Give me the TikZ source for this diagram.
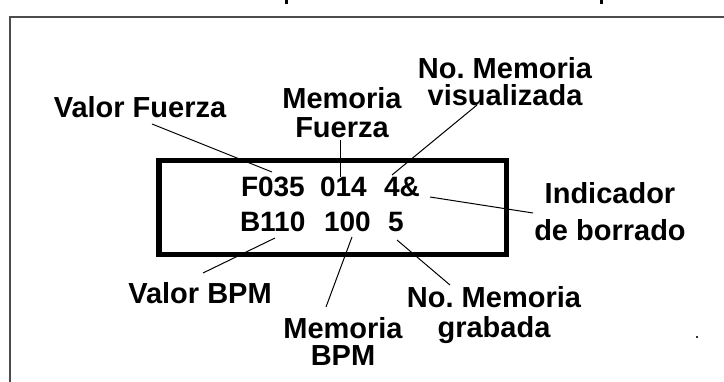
\documentclass[tikz,border=0pt]{standalone}
\usepackage{fontspec}
\setmainfont{Liberation Sans}
\frenchspacing
\begin{document}
\begin{tikzpicture}[x=1pt,y=-1pt,
  lbl/.style={inner sep=0pt,outer sep=0pt,align=center,font=\bfseries\frenchspacing\fontsize{29}{#1}\selectfont},
  lbl/.default=29,
  disp/.style={inner sep=0pt,outer sep=0pt,anchor=base west,font=\bfseries\fontsize{28}{28}\selectfont},
  conn/.style={line width=1pt,black},
  frame/.style={line width=2.5pt,black!70},
  lcdbox/.style={line width=5.5pt,black}]
\useasboundingbox (0,0) rectangle (724,382);
\fill[white] (0,0) rectangle (724,382);
% outer frame (cut off at right and bottom)
\draw[frame] (724,17) -- (10,17) -- (10,382);
% remnants of cropped title
\fill[black] (285,0) rectangle (288,4);
\fill[black] (600,0) rectangle (603,4);
\fill[black!80] (696,336) rectangle (698,338);
% display box
\draw[lcdbox] (159,160.5) rectangle (506.5,254.5);
% display texts
\node[disp] (f035) at (241,197) {F035};
\node[disp] (m014) at (320,197) {014};
\node[disp] (amp)  at (384,197) {4\&};
\node[disp] (b110) at (240,232) {B110};
\node[disp] (m100) at (324,232) {100};
\node[disp] (n5)   at (388,232) {5};
% labels
\node[lbl,anchor=north] (vf) at (140,96.2) {Valor Fuerza};
\node[lbl=29,anchor=north] (mf) at (342,87.2) {Memoria\\Fuerza};
\node[lbl=27,anchor=north] (nmv) at (505,57.2) {No. Memoria\\visualizada};
\node[lbl=37,anchor=north] (idb) at (610,182.2) {Indicador\\de borrado};
\node[lbl,anchor=north] (vb) at (200,282.2) {Valor BPM};
\node[lbl=27,anchor=north] (mb) at (343,317.2) {Memoria\\BPM};
\node[lbl=30,anchor=north] (nmg) at (494,286.2) {No. Memoria\\grabada};
% connector ends
\coordinate (vfA) at (152,124);  \coordinate (vfB) at (272,172);
\coordinate (mfA) at (340,140);  \coordinate (mfB) at (340,177);
\coordinate (nmvA) at (477,105); \coordinate (nmvB) at (392,175);
\coordinate (idbA) at (430,197); \coordinate (idbB) at (533,213);
\coordinate (vbA) at (275,238);  \coordinate (vbB) at (203,273);
\coordinate (mbA) at (352,237);  \coordinate (mbB) at (326,307);
\coordinate (nmgA) at (397,240); \coordinate (nmgB) at (450,285);
\draw[conn] (vfA) -- (vfB);
\draw[conn] (mfA) -- (mfB);
\draw[conn] (nmvA) -- (nmvB);
\draw[conn] (idbA) -- (idbB);
\draw[conn] (vbA) -- (vbB);
\draw[conn] (mbA) -- (mbB);
\draw[conn] (nmgA) -- (nmgB);
\end{tikzpicture}
\end{document}
